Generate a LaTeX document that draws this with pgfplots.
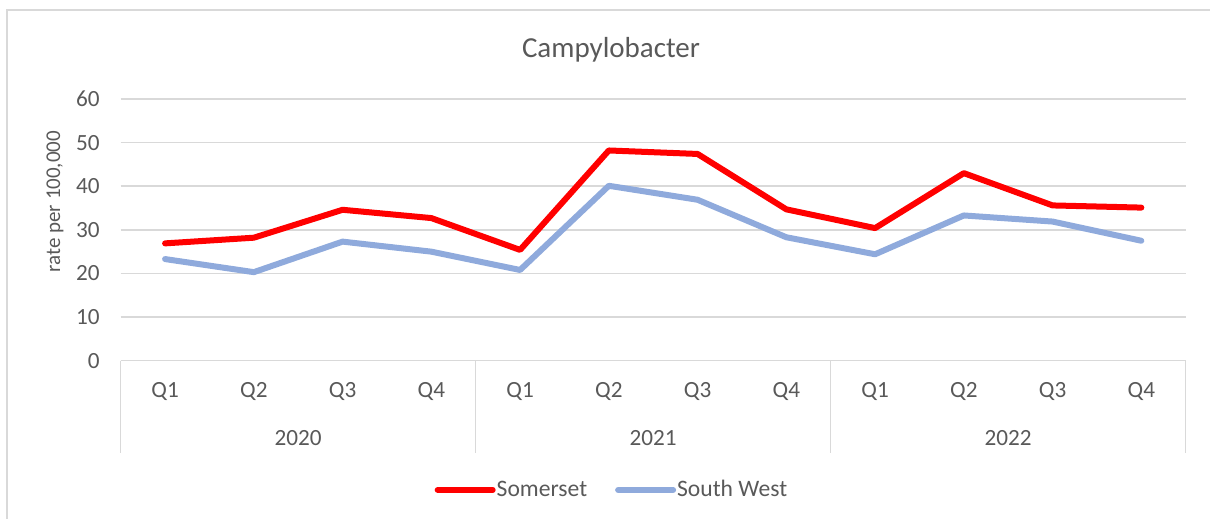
\documentclass[border=0pt]{standalone}
\usepackage{pgfplots}
\pgfplotsset{compat=1.18}
\usepackage{fontspec}
\setmainfont{Carlito}
\definecolor{txt}{HTML}{595959}
\definecolor{grd}{HTML}{D9D9D9}
\definecolor{somer}{HTML}{FF0000}
\definecolor{swest}{HTML}{8FAADC}
\begin{document}
\begin{tikzpicture}
\draw[grd, line width=0.75pt] (3.5pt,-2pt) -- (3.5pt,254.5pt) -- (610pt,254.5pt);
\begin{axis}[
  at={(60.35pt,79.15pt)}, anchor=south west,
  scale only axis, width=532.5pt, height=130.85pt,
  xmin=0.5, xmax=12.5, ymin=0, ymax=60,
  xtick={1,...,12},
  xticklabels={Q1,Q2,Q3,Q4,Q1,Q2,Q3,Q4,Q1,Q2,Q3,Q4},
  ytick={0,10,...,60},
  major tick length=0pt,
  axis x line*=bottom, axis y line*=left,
  x axis line style={draw=grd, line width=0.75pt, -},
  y axis line style={draw=none},
  ymajorgrids, grid style={grd, line width=0.75pt},
  /pgf/number format/assume math mode=true,
  tick label style={font=\fontsize{11.6}{13}\selectfont, text=txt},
  xticklabel style={anchor=center, yshift=-15.5pt},
  yticklabel style={anchor=east, xshift=-7pt},
  ylabel={rate per 100,000},
  every axis y label/.style={at={(rel axis cs:0,0.608)}, xshift=-32.9pt, rotate=90, anchor=center, font=\fontsize{10.5}{12}\selectfont, text=txt},
  title={Campylobacter},
  title style={at={(axis description cs:0.4604,1.1593)}, anchor=base, yshift=-6pt, font=\fontsize{14.5}{17}\selectfont, text=txt},
  legend columns=2,
  legend style={at={(axis description cs:0.4622,-0.494)}, anchor=center, draw=none, fill=none,
    font=\fontsize{11.8}{14}\selectfont, text=txt,
    /tikz/every even column/.append style={column sep=12pt},
    /tikz/every odd column/.append style={column sep=-1.5pt},
    inner sep=0pt},
  legend image code/.code={\draw[#1, line cap=round] (0pt,0pt) -- (27.5pt,0pt);},
  line join=round,
  clip=false,
]
\addplot[somer, line width=3pt, line cap=round] coordinates {
(1,26.9) (2,28.2) (3,34.6) (4,32.7) (5,25.4) (6,48.2) (7,47.4) (8,34.7) (9,30.4) (10,43.0) (11,35.6) (12,35.1)};
\addlegendentry{Somerset}
\addplot[swest, line width=3pt, line cap=round] coordinates {
(1,23.3) (2,20.3) (3,27.3) (4,25.0) (5,20.8) (6,40.1) (7,36.9) (8,28.3) (9,24.4) (10,33.3) (11,31.9) (12,27.5)};
\addlegendentry{South West}
\foreach \xx in {0.5,4.5,8.5,12.5} {
  \edef\temp{\noexpand\draw[grd, line width=0.75pt] (axis cs:\xx,0) -- ([yshift=-46.15pt]axis cs:\xx,0);}
  \temp
}
\node[text=txt, font=\fontsize{11.6}{13}\selectfont, anchor=center] at ([yshift=-38.65pt]axis cs:2.5,0) {2020};
\node[text=txt, font=\fontsize{11.6}{13}\selectfont, anchor=center] at ([yshift=-38.65pt]axis cs:6.5,0) {2021};
\node[text=txt, font=\fontsize{11.6}{13}\selectfont, anchor=center] at ([yshift=-38.65pt]axis cs:10.5,0) {2022};
\end{axis}
\pgfresetboundingbox
\useasboundingbox (0,0) rectangle (605pt,259.5pt);
\end{tikzpicture}
\end{document}
